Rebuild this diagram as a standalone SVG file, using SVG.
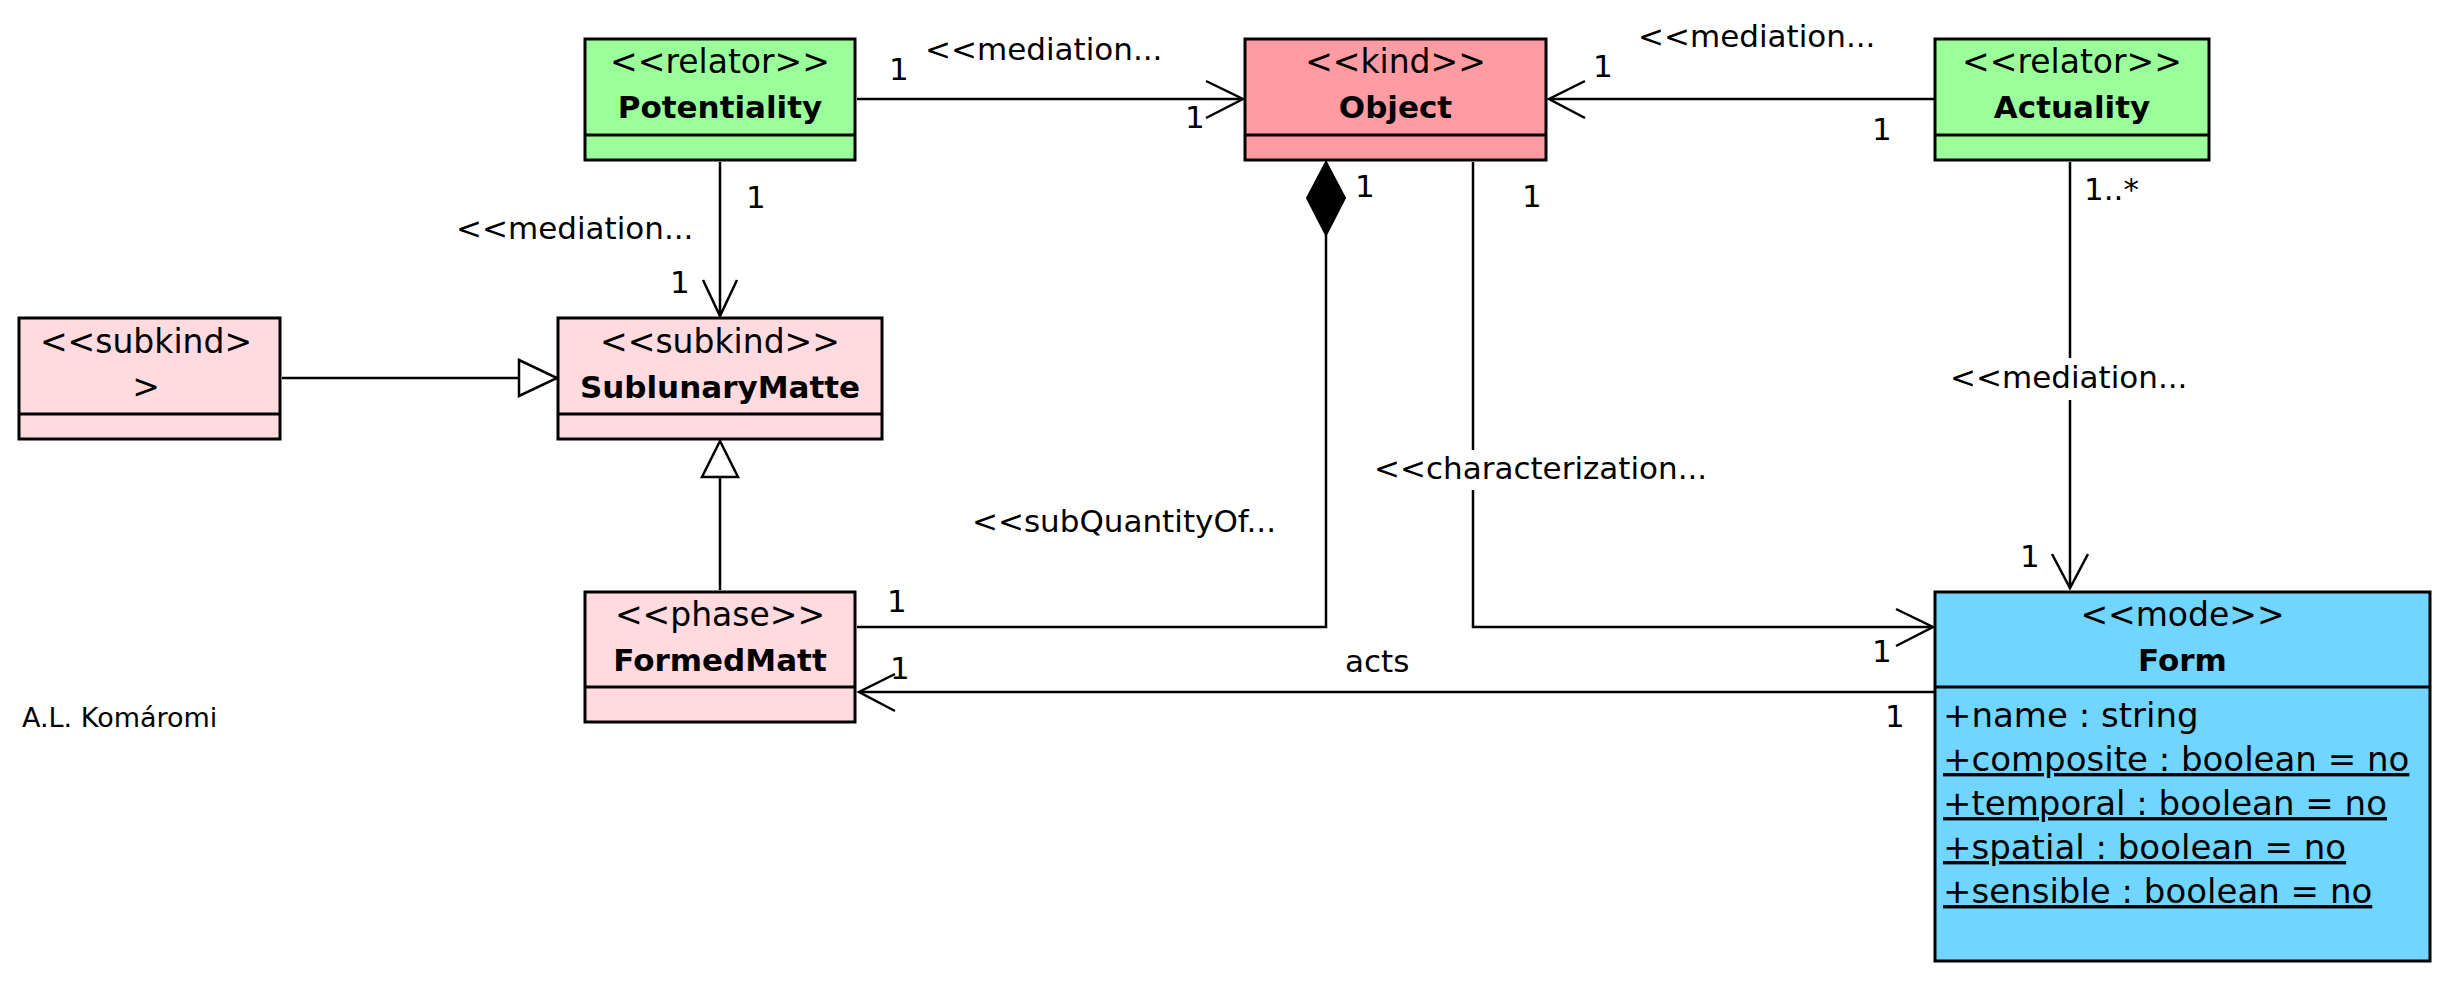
<svg xmlns="http://www.w3.org/2000/svg" width="2442" height="981" viewBox="0 0 2442 981">
<style>
.box{stroke:#000;stroke-width:3}
.div{stroke:#000;stroke-width:3}
.green{fill:#9AFF9A}
.red{fill:#FF9BA3}
.pink{fill:#FFDADE}
.cyan{fill:#71D6FF}
.st{font-family:"DejaVu Sans",sans-serif;font-size:33px;text-anchor:middle;fill:#000}
.nm{font-family:"DejaVu Sans",sans-serif;font-size:31px;font-weight:bold;text-anchor:middle;fill:#000}
.at{font-family:"DejaVu Sans",sans-serif;font-size:34px;fill:#000}
.lb{font-family:"DejaVu Sans",sans-serif;font-size:31px;fill:#000}
.ln{fill:none;stroke:#000;stroke-width:2.5}
.open{fill:none;stroke:#000;stroke-width:2.5}
.tri{fill:#fff;stroke:#000;stroke-width:2.5}
.dia{fill:#000;stroke:#000;stroke-width:2}
</style>
<rect width="2442" height="981" fill="#fff"/>

<g id="connectors">
  <!-- Potentiality -> Object -->
  <line class="ln" x1="857" y1="99" x2="1242" y2="99"/>
  <polyline class="open" points="1206,81 1243,99 1206,118"/>
  <!-- Actuality -> Object -->
  <line class="ln" x1="1934" y1="99" x2="1550" y2="99"/>
  <polyline class="open" points="1585,81 1549,99 1585,118"/>
  <!-- Potentiality -> SublunaryMatte -->
  <line class="ln" x1="720" y1="162" x2="720" y2="316"/>
  <polyline class="open" points="703,280 720,316 737,280"/>
  <!-- subkind -> SublunaryMatte generalization -->
  <line class="ln" x1="282" y1="378" x2="519" y2="378"/>
  <polygon class="tri" points="519,360 557,378 519,396"/>
  <!-- FormedMatt -> SublunaryMatte generalization -->
  <line class="ln" x1="720" y1="590" x2="720" y2="477"/>
  <polygon class="tri" points="702,477 720,441 738,477"/>
  <!-- subQuantityOf -->
  <polyline class="ln" points="857,627 1326,627 1326,235"/>
  <polygon class="dia" points="1326,162 1307,198 1326,235 1345,198"/>
  <!-- characterization -->
  <polyline class="ln" points="1473,162 1473,627 1932,627"/>
  <polyline class="open" points="1896,609 1933,627 1896,646"/>
  <!-- Actuality -> Form -->
  <line class="ln" x1="2070" y1="162" x2="2070" y2="586"/>
  <polyline class="open" points="2052,554 2070,588 2088,554"/>
  <!-- acts -->
  <line class="ln" x1="1934" y1="692" x2="860" y2="692"/>
  <polyline class="open" points="895,674 859,692 895,711"/>

  <!-- labels -->
  <text class="lb" x="889" y="80">1</text>
  <text class="lb" x="925" y="60">&lt;&lt;mediation...</text>
  <text class="lb" x="1185" y="128">1</text>

  <text class="lb" x="1593" y="77">1</text>
  <text class="lb" x="1638" y="47">&lt;&lt;mediation...</text>
  <text class="lb" x="1872" y="140">1</text>

  <text class="lb" x="746" y="208">1</text>
  <text class="lb" x="456" y="239">&lt;&lt;mediation...</text>
  <text class="lb" x="670" y="293">1</text>

  <text class="lb" x="887" y="612">1</text>
  <text class="lb" x="972" y="532">&lt;&lt;subQuantityOf...</text>
  <text class="lb" x="1355" y="197">1</text>

  <rect x="1370" y="450" width="345" height="40" fill="#fff"/>
  <text class="lb" x="1374" y="479">&lt;&lt;characterization...</text>
  <text class="lb" x="1522" y="207">1</text>
  <text class="lb" x="1872" y="662">1</text>

  <rect x="1948" y="358" width="244" height="42" fill="#fff"/>
  <text class="lb" x="1950" y="388">&lt;&lt;mediation...</text>
  <text class="lb" x="2084" y="200">1..*</text>
  <text class="lb" x="2020" y="567">1</text>

  <text class="lb" x="1345" y="672">acts</text>
  <text class="lb" x="890" y="679">1</text>
  <text class="lb" x="1885" y="727">1</text>
</g>

<g id="Potentiality">
  <rect class="box green" x="585" y="39" width="270" height="121"/>
  <line class="div" x1="585" y1="135" x2="855" y2="135"/>
  <text class="st" x="720" y="73">&lt;&lt;relator&gt;&gt;</text>
  <text class="nm" x="720" y="118">Potentiality</text>
</g>

<g id="Object">
  <rect class="box red" x="1245" y="39" width="301" height="121"/>
  <line class="div" x1="1245" y1="135" x2="1546" y2="135"/>
  <text class="st" x="1395.5" y="73">&lt;&lt;kind&gt;&gt;</text>
  <text class="nm" x="1395.5" y="118">Object</text>
</g>

<g id="Actuality">
  <rect class="box green" x="1935" y="39" width="274" height="121"/>
  <line class="div" x1="1935" y1="135" x2="2209" y2="135"/>
  <text class="st" x="2072" y="73">&lt;&lt;relator&gt;&gt;</text>
  <text class="nm" x="2072" y="118">Actuality</text>
</g>

<g id="Subkind">
  <rect class="box pink" x="19" y="318" width="261" height="121"/>
  <line class="div" x1="19" y1="414" x2="280" y2="414"/>
  <text class="st" x="146" y="353">&lt;&lt;subkind&gt;</text>
  <text class="st" x="146" y="398">&gt;</text>
</g>

<g id="SublunaryMatte">
  <rect class="box pink" x="558" y="318" width="324" height="121"/>
  <line class="div" x1="558" y1="414" x2="882" y2="414"/>
  <text class="st" x="720" y="353">&lt;&lt;subkind&gt;&gt;</text>
  <text class="nm" x="720" y="398">SublunaryMatte</text>
</g>

<g id="FormedMatt">
  <rect class="box pink" x="585" y="592" width="270" height="130"/>
  <line class="div" x1="585" y1="687" x2="855" y2="687"/>
  <text class="st" x="720" y="626">&lt;&lt;phase&gt;&gt;</text>
  <text class="nm" x="720" y="671">FormedMatt</text>
</g>

<g id="Form">
  <rect class="box cyan" x="1935" y="592" width="495" height="369"/>
  <line class="div" x1="1935" y1="687" x2="2430" y2="687"/>
  <text class="st" x="2182.5" y="626">&lt;&lt;mode&gt;&gt;</text>
  <text class="nm" x="2182.5" y="671">Form</text>
  <text class="at" x="1943" y="727">+name : string</text>
  <text class="at" x="1943" y="771" text-decoration="underline">+composite : boolean = no</text>
  <text class="at" x="1943" y="815" text-decoration="underline">+temporal : boolean = no</text>
  <text class="at" x="1943" y="859" text-decoration="underline">+spatial : boolean = no</text>
  <text class="at" x="1943" y="903" text-decoration="underline">+sensible : boolean = no</text>
</g>

<g id="author">
  <text class="lb" x="22" y="727" style="font-size:27px">A.L. Komáromi</text>
</g>
</svg>
